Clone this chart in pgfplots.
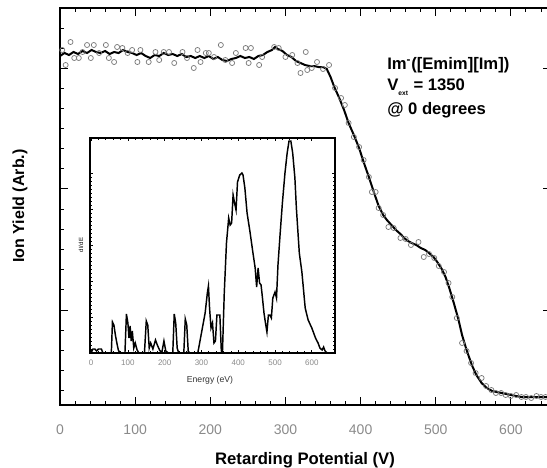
\documentclass[border=0pt]{standalone}
\usepackage{pgfplots}
\pgfplotsset{compat=1.18}
\usepackage{fontspec}
\setmainfont{Liberation Sans}
\definecolor{tickgray}{HTML}{8A8A8A}
\definecolor{circgray}{HTML}{7A7A7A}
\begin{document}
\begin{tikzpicture}
\path[use as bounding box] (0pt,0pt) rectangle (410.25pt,-351pt);
% ---------------- main axis ----------------
\begin{axis}[
  at={(45pt,-6pt)}, anchor=north west,
  scale only axis, width=368pt, height=297.75pt,
  xmin=0, xmax=652.9, ymin=0, ymax=397,
  axis line style={line width=0.9pt},
  every tick/.style={black, line width=0.7pt},
  tick align=inside,
  major tick length=6pt, minor tick length=3pt,
  xtick={0,100,...,600},
  minor xtick={20,40,60,80,120,140,160,180,220,240,260,280,320,340,360,380,420,440,460,480,520,540,560,580,620,640},
  ytick={95,217,337},
  minor ytick={14.3,34.5,54.7,74.8,115.2,135.3,155.5,175.7,195.8,237,257,277,297,317,357,377},
  yticklabels={},
  /pgf/number format/assume math mode=true,
  xticklabel style={font=\fontsize{10.5}{12}\selectfont, text=tickgray, yshift=-11pt},
  clip=true,
]
\addplot[only marks, mark=o, mark size=1.9pt, color=circgray, mark options={line width=0.55pt}] coordinates {
(3,355)(7.5,340)(14,363)(19,347)(25,347)(30,353)(36,360)(41,347)(45,360)(52,352)
(61,360)(65,347)(72,343)(76,358)(83,357)(90,352)(96,355)(103,343)(107,355)(118,343)
(127,353)(132,345)(138,353)(145,353)(152,342)(163,353)(169,347)(178,337)(183,355)(187,343)
(194,352)(198,352)(205,348)(214,360)(220,345)(229,342)(234,352)(247,357)(251,342)(254,357)
(265,340)(269,348)(285,358)(291,357)(300,348)(309,350)(316,342)(320,332)(327,353)(329,335)
(335,337)(342,343)(350,336)(358,340)(366,317)(374,307)(379,300)(384,282)(391,268)(398,258)
(404,245)(411,228)(415,213)(420,213)(424,197)(430,190)(437,178)(444,177)(453,167)(460,166)
(467,160)(477,163)(484,148)(491,151)(498,147)(504,139)(511,133)(517,122)(522,108)(528,87)
(535,62)(541,54)(547,42)(553,32)(561,27)(567,19)(574,15)(580,12)(587,12)(593,10)
(600,9)(607,10)(614,8)(620,8)(627,7)(634,9)(640,8)(646,8)
};
\addplot[black, line width=1.5pt] coordinates {
(0,349)(6,352)(12,350)(18,353)(24,351)(30,354)(36,352)(42,355)(48,353)(54,352)
(60,354)(66,351)(72,353)(78,352)(84,355)(90,353)(96,352)(102,350)(108,352)(114,349)
(120,347)(126,350)(132,349)(138,352)(144,350)(150,351)(156,349)(162,351)(168,348)(174,349)
(180,347)(186,349)(192,347)(198,349)(204,346)(210,348)(216,345)(222,344)(228,346)(234,347)
(240,349)(246,347)(252,348)(258,346)(264,349)(270,350)(276,353)(282,355)(286,358)(290,356)
(296,354)(302,350)(308,348)(314,344)(320,342)(326,340)(332,339)(338,339)(344,338)(350,338)
(355,336)(360,328)(365,318)(371,308)(378,295)(384,282)(391,270)(398,257)(404,243)(411,228)
(418,212)(424,199)(430,190)(435,185)(441,180)(447,175)(453,171)(458,167)(463,164)(468,162)
(474,160)(480,157)(486,155)(491,152)(497,148)(502,143)(508,136)(513,128)(518,117)(524,102)
(530,86)(535,70)(541,55)(548,40)(554,30)(561,22)(568,17)(575,14)(581,13)(588,12)
(600,10)(614,8)(630,8)(652,8)
};
\end{axis}
% ---------------- inset ----------------
\begin{axis}[
  at={(67.5pt,-103.5pt)}, anchor=north west,
  scale only axis, width=183.75pt, height=161.25pt,
  xmin=-3, xmax=663, ymin=0, ymax=215,
  axis background/.style={fill=white},
  axis line style={line width=0.9pt},
  every tick/.style={black, line width=0.5pt},
  tick align=inside,
  major tick length=2.5pt, minor tick length=1.5pt,
  xtick={0,100,...,600}, minor x tick num=4,
  ytick={0,36,72,108,144,180}, minor y tick num=8,
  yticklabels={},
  /pgf/number format/assume math mode=true,
  xticklabel style={font=\fontsize{6}{7}\selectfont, text=tickgray, yshift=-1.5pt},
]
\addplot[black, line width=1.1pt] coordinates {
(0,0)(5,4)(10,4)(15,2)(20,4)(28,4)(32,0)(55,0)(58,31)(62,28)(66,18)(70,10)(74,3)(78,0)
(92,0)(96,39)(100,30)(103,15)(106,27)(109,12)(112,22)(116,5)(120,10)(125,3)(130,0)
(145,0)(150,32)(154,28)(158,5)(162,10)(168,4)(175,13)(180,8)(186,3)(192,0)(198,12)(203,2)(210,0)
(222,0)(226,39)(230,30)(234,5)(238,0)(252,0)(256,34)(260,28)(264,2)(268,0)
(290,0)(300,20)(310,40)(316,60)(319,67)(322,45)(326,25)(330,30)(334,10)(338,12)(342,38)(350,38)(354,2)(357,0)
(362,60)(368,110)(374,135)(378,128)(382,130)(386,158)(390,150)(394,143)(398,171)(404,178)(410,180)(413,178)
(418,165)(424,140)(432,121)(440,100)(446,85)(450,66)(454,85)(458,70)(462,68)(465,58)(470,40)(474,30)(478,21)
(482,38)(486,38)(490,35)(494,55)(500,61)(504,55)(508,88)(514,120)(520,150)(527,180)(533,200)(538,212)(543,212)
(548,200)(554,175)(558,145)(566,100)(573,81)(582,45)(590,33)(600,25)(610,15)(617,10)(622,5)(628,3)(632,6)(636,2)(642,0)(663,0)
};
\end{axis}
% ---------------- labels ----------------
\node[font=\bfseries\fontsize{12.5}{14}\selectfont] at (228.75pt,-345pt) {Retarding Potential (V)};
\node[font=\bfseries\fontsize{12}{14}\selectfont, rotate=90] at (15pt,-154.5pt) {Ion Yield (Arb.)};
\node[font=\fontsize{6.5}{8}\selectfont, text=black!80] at (157.5pt,-285pt) {Energy (eV)};
\node[font=\fontsize{4.5}{5}\selectfont, rotate=90] at (60.75pt,-183.75pt) {dI/dE};
\node[font=\bfseries\fontsize{12.5}{14}\selectfont, anchor=west, inner sep=0pt] at (290.25pt,-48.75pt) {Im\textsuperscript{-}([Emim][Im])};
\node[font=\bfseries\fontsize{12.5}{14}\selectfont, anchor=west, inner sep=0pt] at (290.25pt,-65.25pt) {V\raisebox{-4pt}{\fontsize{5}{6}\selectfont ext}\,\,= 1350};
\node[font=\bfseries\fontsize{12.5}{14}\selectfont, anchor=west, inner sep=0pt] at (290.25pt,-82.5pt) {@ 0 degrees};
\end{tikzpicture}
\end{document}
